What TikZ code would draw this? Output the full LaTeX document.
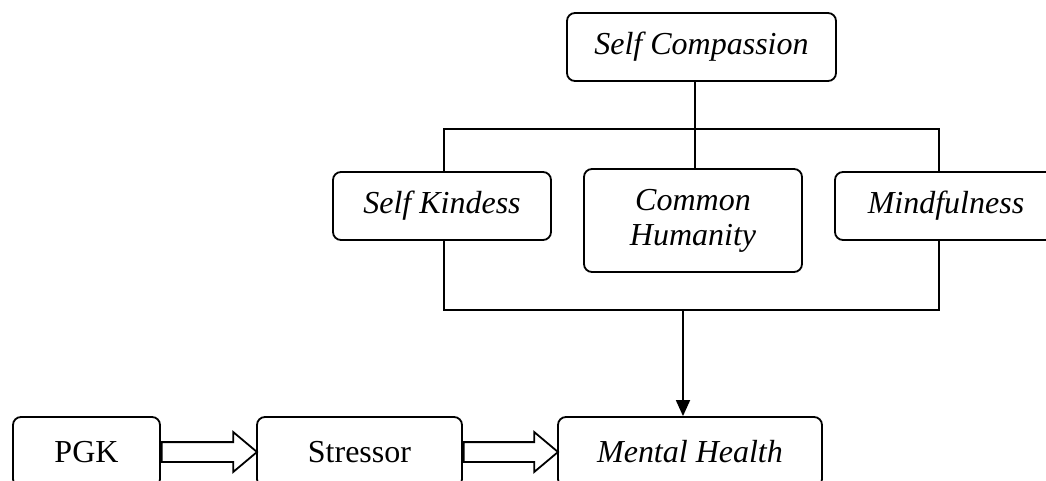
\documentclass[tikz,border=0pt]{standalone}
\usepackage{fontspec}
\setmainfont{Liberation Serif}
\usetikzlibrary{arrows.meta}
\usetikzlibrary{shapes,arrows}
\usetikzlibrary{calc}

\begin{document}
\begin{tikzpicture}[x=0.5pt,y=-0.5pt]
\tikzstyle{bloc}=[rectangle,draw,line width=0.9pt,rounded corners=4pt,fill=white,
inner sep=0pt,minimum height=34pt,font=\fontsize{16}{17.5}\selectfont]
\tikzstyle{facteur}=[bloc,font=\fontsize{16}{17.5}\selectfont\itshape]
\tikzstyle{creuse}=[single arrow,draw,line width=0.9pt,fill=white,inner xsep=0pt,
inner ysep=4.5pt,single arrow head extend=5pt,single arrow tip angle=80,pos=0,anchor=tail]

\clip (0,0) rectangle (1046,481);

\node[facteur,minimum width=134.5pt] (compassion) at (701.5,47) {Self Compassion};
\coordinate (haut) at (695,129);
\coordinate (bas) at (683,310);

% cadre des trois composantes
\draw[line width=0.9pt] (444,129) rectangle (939,310);

\node[facteur,minimum width=109pt,minimum height=51.5pt,align=center] (humanity) at (693,220.5) {Common\\Humanity};
\node[facteur,minimum width=109pt] (kindness) at (442,206) {Self Kindess};
\node[facteur,minimum width=111pt] (mindful) at (946,206) {Mindfulness};

\draw[line width=0.9pt] (haut |- compassion.south) -- (haut |- humanity.north);

\node[bloc,minimum width=73.5pt,minimum height=35pt] (pgk) at (86.5,452) {PGK};
\node[bloc,minimum width=102.5pt,minimum height=35pt] (stressor) at (359.5,452) {Stressor};
\node[facteur,minimum width=132pt,minimum height=35pt] (mental) at (690,452) {Mental Health};

\tikzstyle{suite}=[line width=0.9pt,-{Triangle[length=8pt,width=7pt]}]
\draw[suite] (bas) -- (bas |- mental.north);

\path let \p1=($(stressor.west)-(pgk.east)$) in
  (pgk.east) -- node[creuse,minimum height=\x1] {} (stressor.west);
\path let \p1=($(mental.west)-(stressor.east)$) in
  (stressor.east) -- node[creuse,minimum height=\x1] {} (mental.west);

\end{tikzpicture}
\end{document}
